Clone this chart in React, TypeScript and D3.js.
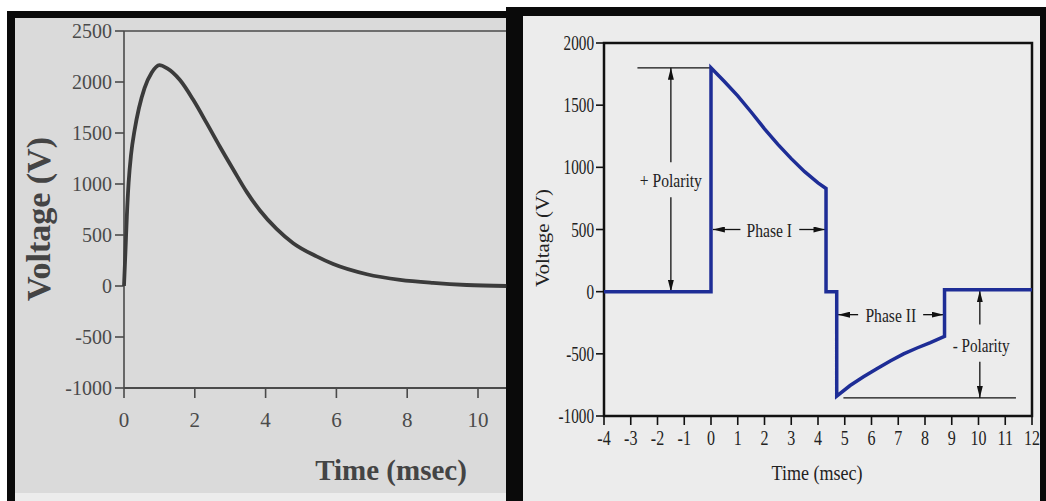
import * as d3 from "d3";

// left panel: monophasic damped sine waveform
const leftTime = [0, 0.04, 0.08, 0.13, 0.2, 0.3, 0.42, 0.58, 0.78, 1.0, 1.21, 1.58, 1.96, 2.34, 2.71, 3.09, 3.47, 3.84, 4.31, 4.78, 5.44, 5.91, 6.86, 7.8, 8.73, 9.68, 10.8];
const leftVoltage = [0, 330, 680, 1010, 1290, 1530, 1740, 1940, 2090, 2165, 2135, 2019, 1823, 1594, 1365, 1140, 920, 740, 560, 420, 290, 215, 115, 60, 30, 10, 0];
const leftYTicks = [-1000, -500, 0, 500, 1000, 1500, 2000, 2500];
const leftXTicks = [0, 2, 4, 6, 8, 10];

// right panel: biphasic truncated exponential waveform
const rightTime = [-4, 0, 0, 0.5, 1, 1.5, 2, 2.5, 3, 3.5, 4, 4.3, 4.3, 4.7, 4.7, 5.2, 5.7, 6.2, 6.7, 7.2, 7.7, 8.2, 8.73, 8.73, 12];
const rightVoltage = [0, 0, 1800, 1690, 1575, 1445, 1310, 1185, 1070, 965, 875, 830, 0, 0, -840, -755, -685, -620, -557, -500, -453, -410, -360, 16, 16];
const rightYTicks = [-1000, -500, 0, 500, 1000, 1500, 2000];
const rightXTicks = d3.range(-4, 13);

const serif = "'Liberation Serif', 'Times New Roman', serif";
const blue = "#1e2d96";

const xL = d3.scaleLinear().domain([0, 10]).range([124, 478]);
const yL = d3.scaleLinear().domain([-1000, 2500]).range([388, 31]);
const xR = d3.scaleLinear().domain([-4, 12]).range([604, 1032]);
const yR = d3.scaleLinear().domain([-1000, 2000]).range([416, 43]);

function CText({ x, y, size, anchor = "middle", sx = 0.8, children }: any) {
  return (
    <text
      transform={`translate(${x},${y}) scale(${sx},1)`}
      fontSize={size}
      textAnchor={anchor}
      fill="#222"
    >
      {children}
    </text>
  );
}

function ArrowLine({ x1, y1, x2, y2 }: any) {
  return (
    <line x1={x1} y1={y1} x2={x2} y2={y2} stroke="#111" strokeWidth={1.3} markerEnd="url(#arrowhead)" />
  );
}

export default function App() {
  const leftLine = d3
    .line<number>()
    .x((d, i) => xL(leftTime[i]))
    .y((d) => yL(d))
    .curve(d3.curveMonotoneX);
  const rightLine = d3
    .line<number>()
    .x((d, i) => xR(rightTime[i]))
    .y((d) => yR(d));

  const xLEnd = 506;

  return (
    <svg
      width={1046}
      height={501}
      style={{ position: "absolute", left: 0, top: 0, fontFamily: serif }}
    >
      <defs>
        <marker
          id="arrowhead"
          viewBox="0 0 12 6"
          refX={12}
          refY={3}
          markerWidth={12}
          markerHeight={6}
          markerUnits="userSpaceOnUse"
          orient="auto"
        >
          <path d="M0,0 L12,3 L0,6 Z" fill="#111" />
        </marker>
      </defs>
      <rect width={1046} height={501} fill="#ffffff" />

      {/* left panel frame */}
      <rect x={7} y={11} width={513} height={490} fill="#0a0a0a" />
      <rect x={15} y={18} width={491} height={483} fill="#ececec" />
      <rect x={15} y={18} width={491} height={475} fill="#dadada" />

      {/* right panel frame */}
      <rect x={506} y={7} width={540} height={494} fill="#0a0a0a" />
      <rect x={523} y={16} width={517} height={485} fill="#ececec" />

      {/* ---- left chart ---- */}
      <g stroke="#4a4a4a" fill="none">
        <line x1={xL(0)} x2={xLEnd} y1={yL(2500)} y2={yL(2500)} strokeWidth={1.4} />
        <line x1={xL(0)} x2={xLEnd} y1={yL(-1000)} y2={yL(-1000)} strokeWidth={2} />
        <line x1={xL(0)} x2={xL(0)} y1={yL(2500)} y2={yL(-1000)} strokeWidth={1.6} />
        {leftYTicks.map((t) => (
          <line key={t} x1={xL(0) - 9} x2={xL(0)} y1={yL(t)} y2={yL(t)} strokeWidth={1.6} />
        ))}
        {leftXTicks.map((t) => (
          <line key={t} x1={xL(t)} x2={xL(t)} y1={yL(-1000)} y2={yL(-1000) + 10} strokeWidth={1.6} />
        ))}
      </g>
      <g fill="#4a4a4a" fontSize={20}>
        {leftYTicks.map((t) => (
          <text key={t} x={112} y={yL(t)} dy="0.35em" textAnchor="end">
            {t}
          </text>
        ))}
        {leftXTicks.map((t) => (
          <text key={t} x={xL(t)} y={427} fontSize={21} textAnchor="middle">
            {t}
          </text>
        ))}
      </g>
      <path d={leftLine(leftVoltage) || ""} fill="none" stroke="#3b3b3b" strokeWidth={3.8} strokeLinejoin="round" />
      <text
        transform="translate(50,219) rotate(-90)"
        textAnchor="middle"
        fontSize={34}
        fontWeight="bold"
        fill="#444"
      >
        Voltage (V)
      </text>
      <text x={391} y={480} textAnchor="middle" fontSize={29} fontWeight="bold" fill="#444">
        Time (msec)
      </text>

      {/* ---- right chart ---- */}
      <rect
        x={xR(-4)}
        y={yR(2000)}
        width={xR(12) - xR(-4)}
        height={yR(-1000) - yR(2000)}
        fill="none"
        stroke="#111"
        strokeWidth={2.5}
      />
      <g stroke="#111" strokeWidth={1.6}>
        {rightYTicks.map((t) => (
          <line key={t} x1={xR(-4) - 8} x2={xR(-4)} y1={yR(t)} y2={yR(t)} />
        ))}
        {rightXTicks.map((t) => (
          <line key={t} x1={xR(t)} x2={xR(t)} y1={yR(-1000)} y2={yR(-1000) + 9} />
        ))}
      </g>
      {rightYTicks.map((t) => (
        <CText key={t} x={594} y={yR(t) + 7} size={20} anchor="end" sx={0.76}>
          {t}
        </CText>
      ))}
      {rightXTicks.map((t) => (
        <CText key={t} x={xR(t)} y={445} size={20}>
          {t}
        </CText>
      ))}
      <text
        transform="translate(549,238) rotate(-90) scale(1,0.85)"
        textAnchor="middle"
        fontSize={21}
        fill="#222"
      >
        Voltage (V)
      </text>
      <CText x={817} y={480} size={22} sx={0.82}>
        Time (msec)
      </CText>

      {/* annotations */}
      <g stroke="#111" strokeWidth={1.3}>
        <line x1={xR(-2.75)} x2={xR(0)} y1={yR(1800)} y2={yR(1800)} />
        <line x1={xR(4.95)} x2={xR(11.4)} y1={yR(-855)} y2={yR(-855)} />
      </g>
      <ArrowLine x1={xR(-1.5)} y1={yR(1040)} x2={xR(-1.5)} y2={yR(1800)} />
      <ArrowLine x1={xR(-1.5)} y1={yR(760)} x2={xR(-1.5)} y2={yR(0)} />
      <CText x={xR(-1.5)} y={yR(900) + 7} size={19.5}>
        + Polarity
      </CText>

      <ArrowLine x1={xR(1.1)} y1={yR(500)} x2={xR(0.07)} y2={yR(500)} />
      <ArrowLine x1={xR(3.3)} y1={yR(500)} x2={xR(4.28)} y2={yR(500)} />
      <CText x={xR(2.18)} y={yR(500) + 7} size={19.5}>
        Phase I
      </CText>

      <ArrowLine x1={xR(5.5)} y1={yR(-185)} x2={xR(4.75)} y2={yR(-185)} />
      <ArrowLine x1={xR(7.93)} y1={yR(-185)} x2={xR(8.7)} y2={yR(-185)} />
      <CText x={xR(6.72)} y={yR(-185) + 7} size={19.5}>
        Phase II
      </CText>

      <ArrowLine x1={xR(10.05)} y1={yR(-265)} x2={xR(10.05)} y2={yR(10)} />
      <ArrowLine x1={xR(10.05)} y1={yR(-563)} x2={xR(10.05)} y2={yR(-855)} />
      <CText x={xR(10.1)} y={yR(-426) + 7} size={19}>
        - Polarity
      </CText>

      <path d={rightLine(rightVoltage) || ""} fill="none" stroke={blue} strokeWidth={3.5} strokeLinejoin="miter" />
    </svg>
  );
}
